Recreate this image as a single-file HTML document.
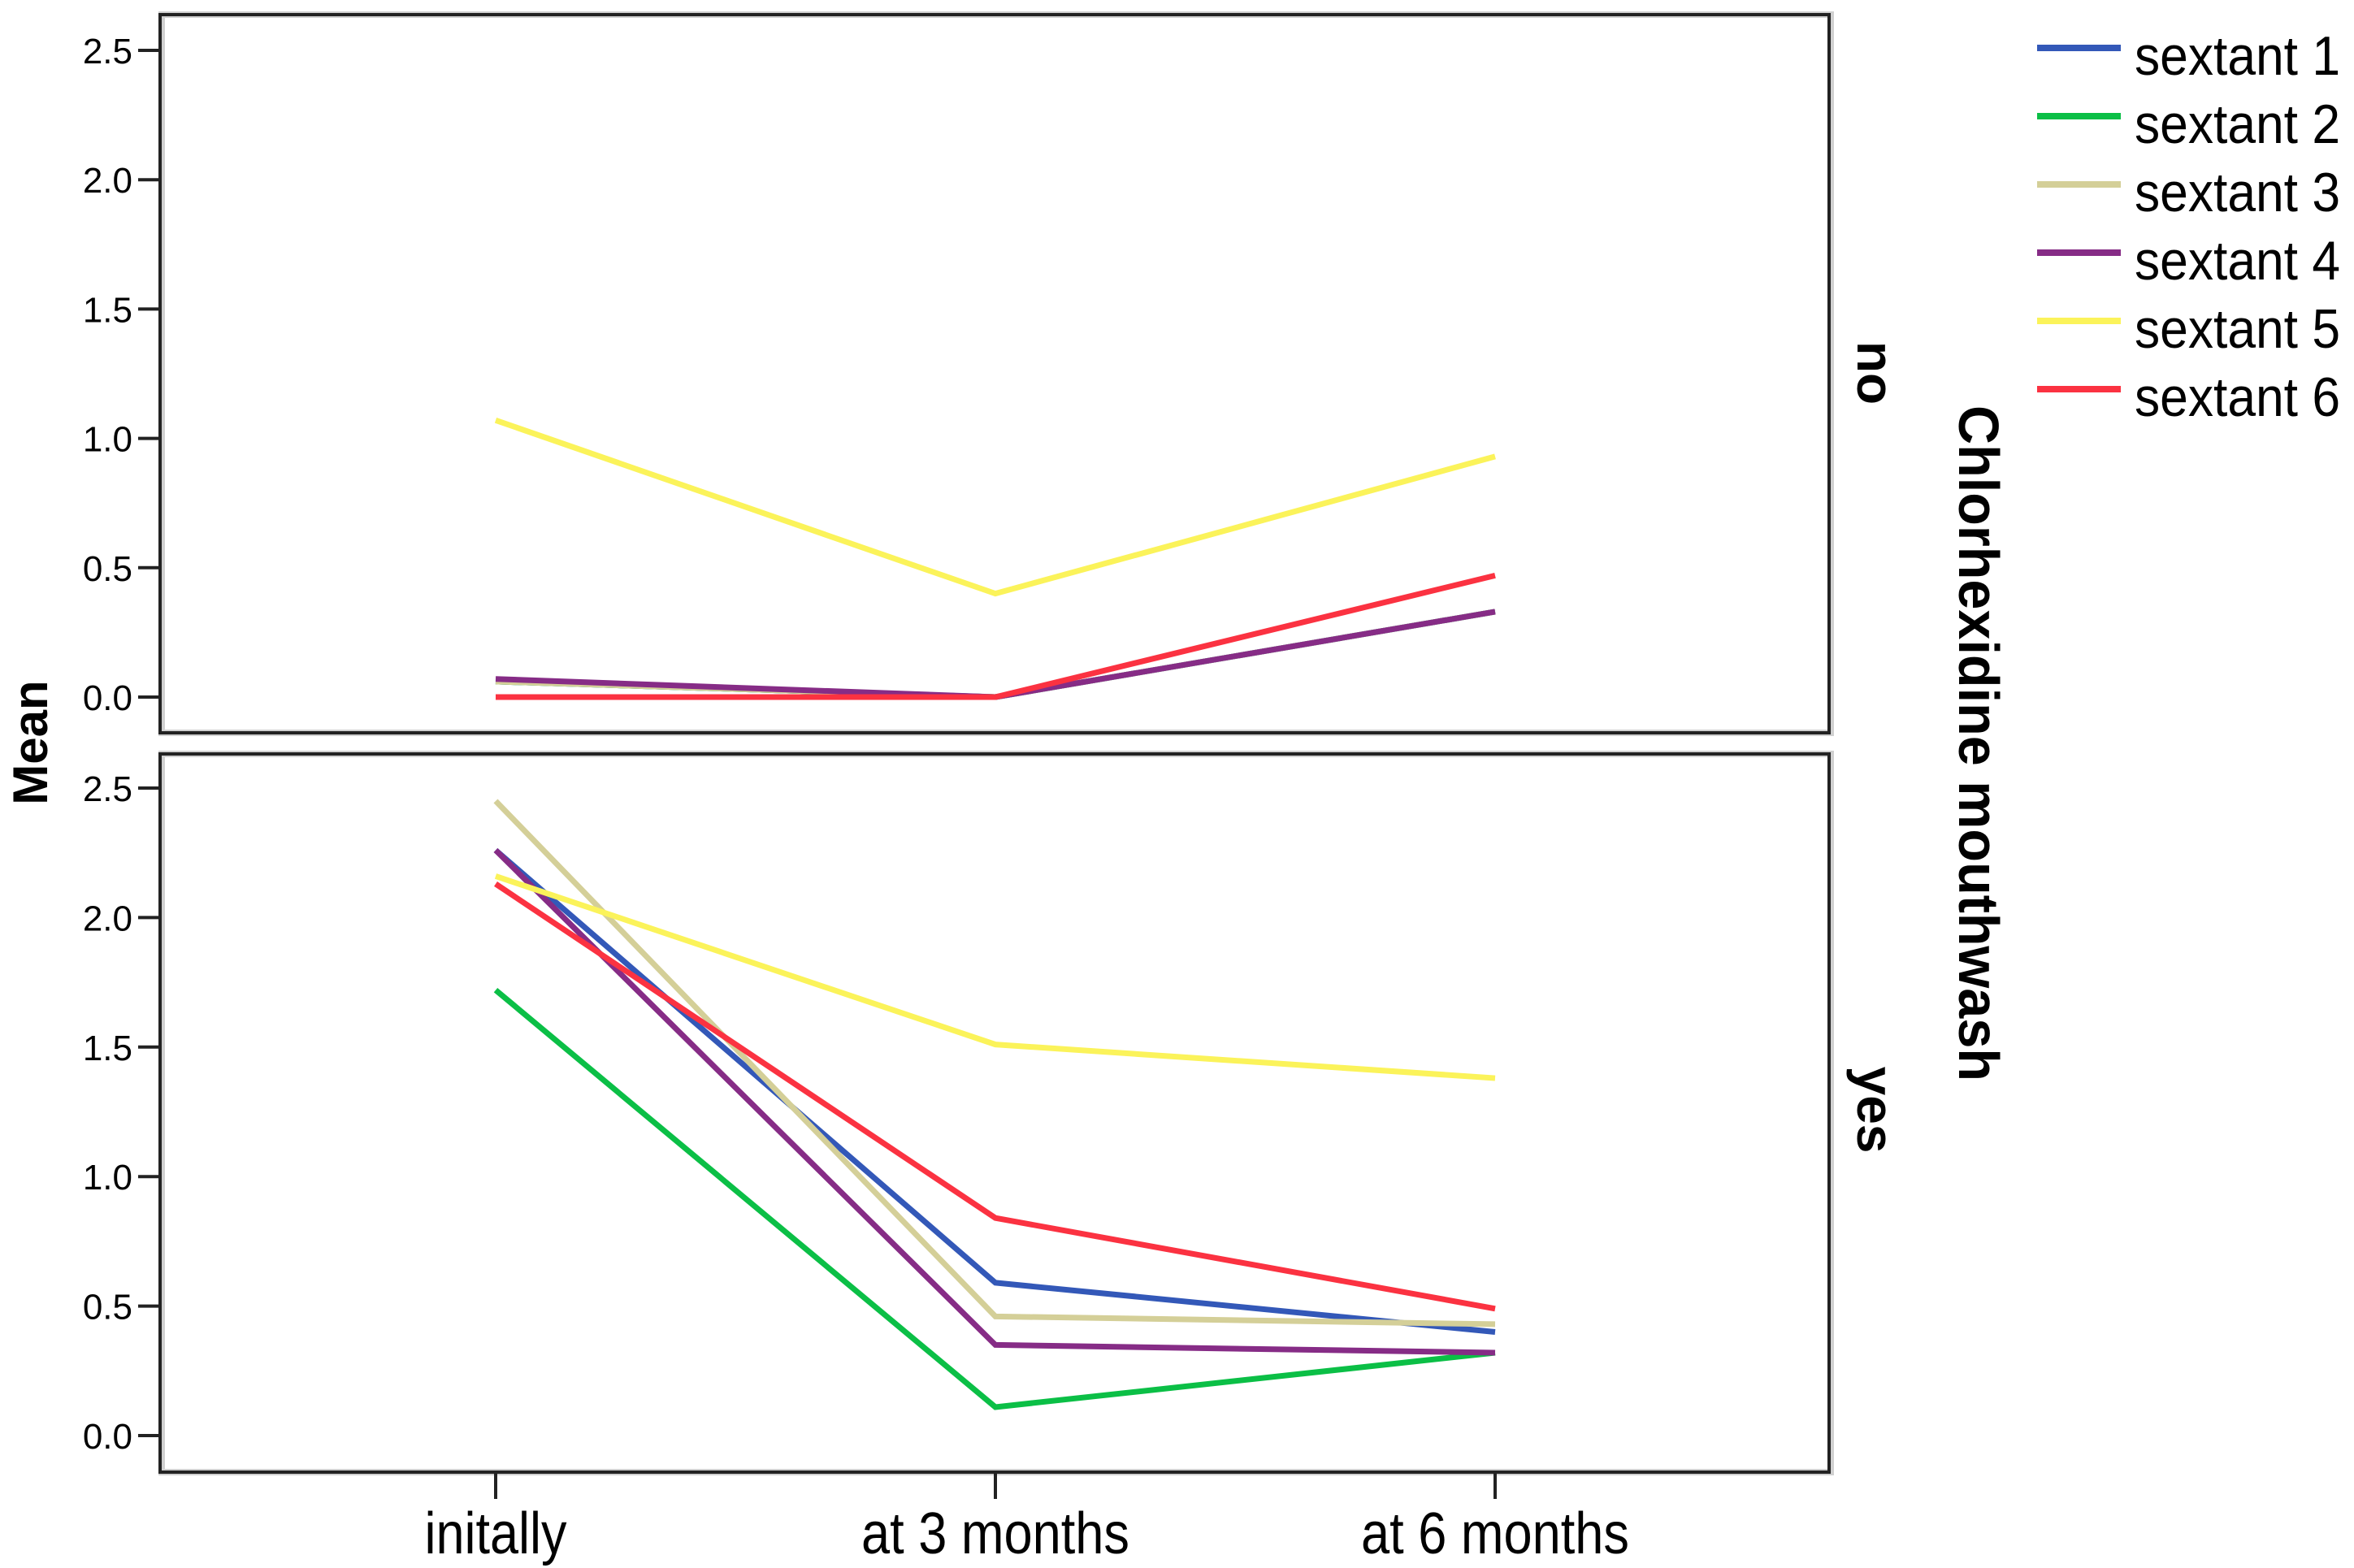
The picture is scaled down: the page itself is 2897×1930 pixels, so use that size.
<!DOCTYPE html>
<html><head><meta charset="utf-8"><style>
html,body{margin:0;padding:0;background:#fff;}
svg{display:block;}
text{font-family:"Liberation Sans",sans-serif;}
.n{font-family:"Liberation Sans Narrow","Liberation Sans",sans-serif;}
</style></head><body>
<svg id="chart" width="2897" height="1930" viewBox="0 0 2897 1930" xmlns="http://www.w3.org/2000/svg">
<g id="frames">
<rect x="199" y="18" width="2054" height="884" fill="none" stroke="#d0d0d0" stroke-width="8"/>
<rect x="197" y="18" width="2054" height="884" fill="none" stroke="#222" stroke-width="4"/>
<rect x="199" y="928" width="2054" height="884" fill="none" stroke="#d0d0d0" stroke-width="8"/>
<rect x="197" y="928" width="2054" height="884" fill="none" stroke="#222" stroke-width="4"/>
</g>
<g id="axes"></g>
<g id="series"></g>
<g id="legend"></g>
<text transform="translate(58,914) rotate(-90)" text-anchor="middle" font-weight="bold" font-size="60">Mean</text>
<text class="n" transform="translate(2411,915) rotate(90)" text-anchor="middle" font-weight="bold" font-size="70" textLength="832" lengthAdjust="spacingAndGlyphs">Chlorhexidine mouthwash</text>
<text class="n" transform="translate(2286,459) rotate(90)" text-anchor="middle" font-weight="bold" font-size="64">no</text>
<text class="n" transform="translate(2286,1366) rotate(90)" text-anchor="middle" font-weight="bold" font-size="64">yes</text>
</svg>
<script>
const categories = ["initally", "at 3 months", "at 6 months"];
const seriesNames = ["sextant 1", "sextant 2", "sextant 3", "sextant 4", "sextant 5", "sextant 6"];
const seriesColors = ["#3358b8", "#0bbf46", "#d4cf98", "#862c86", "#fbf35a", "#fb3241"];
const yTicks = [0, 0.5, 1, 1.5, 2, 2.5];
const yTickLabels = ["0.0", "0.5", "1.0", "1.5", "2.0", "2.5"];
const noS1 = [0.06, 0.00, 0.33];
const noS2 = [0.06, 0.00, 0.33];
const noS3 = [0.06, 0.00, 0.33];
const noS4 = [0.07, 0.00, 0.33];
const noS5 = [1.07, 0.40, 0.93];
const noS6 = [0.00, 0.00, 0.47];
const yesS1 = [2.26, 0.59, 0.40];
const yesS2 = [1.72, 0.11, 0.32];
const yesS3 = [2.45, 0.46, 0.43];
const yesS4 = [2.26, 0.35, 0.32];
const yesS5 = [2.16, 1.51, 1.38];
const yesS6 = [2.13, 0.84, 0.49];
const panelNo = [noS1, noS2, noS3, noS4, noS5, noS6];
const panelYes = [yesS1, yesS2, yesS3, yesS4, yesS5, yesS6];

const NS = "http://www.w3.org/2000/svg";
const xPos = i => 610 + i * 615;
const yNo = v => 858 - v * 318.4;
const yYes = v => 1767 - v * 318.8;
function mk(tag, attrs, parent) {
  const e = document.createElementNS(NS, tag);
  for (const k in attrs) e.setAttribute(k, attrs[k]);
  parent.appendChild(e);
  return e;
}
const axes = document.getElementById("axes");
[["no", yNo], ["yes", yYes]].forEach(([pn, yf]) => {
  yTicks.forEach((t, i) => {
    const tk = mk("line", {x1: 170, x2: 197, y1: yf(t), y2: yf(t), stroke: "#222", "stroke-width": 4}, axes);
    
    
    const lb = mk("text", {x: 163, y: yf(t) + 16, "text-anchor": "end", "font-size": 44}, axes);
    
    
    lb.textContent = yTickLabels[i];
  });
});
categories.forEach((c, i) => {
  const tk = mk("line", {x1: xPos(i), x2: xPos(i), y1: 1812, y2: 1845, stroke: "#222", "stroke-width": 4}, axes);
  
  
  const lb = mk("text", {x: xPos(i), y: 1912, "text-anchor": "middle", "font-size": 72, class: "n", textLength: c.length > 8 ? 330 : 175, lengthAdjust: "spacingAndGlyphs"}, axes);
  
  
  lb.textContent = c;
});
const sg = document.getElementById("series");
[[panelNo, yNo, "no"], [panelYes, yYes, "yes"]].forEach(([data, yf, pn]) => {
  data.forEach((vals, s) => {
    const pts = vals.map((v, i) => xPos(i) + "," + yf(v)).join(" ");
    const pl = mk("polyline", {points: pts, fill: "none", stroke: seriesColors[s], "stroke-width": 7, "stroke-linejoin": "miter"}, sg);
    
    
  });
});
const lg = document.getElementById("legend");
seriesNames.forEach((n, s) => {
  const y = 59 + s * 84;
  const g = mk("g", {}, lg);
  
  
  mk("line", {x1: 2507, x2: 2610, y1: y, y2: y, stroke: seriesColors[s], "stroke-width": 8}, g);
  const t = mk("text", {x: 2627, y: y + 33, "font-size": 68, class: "n", textLength: 253, lengthAdjust: "spacingAndGlyphs"}, g);
  t.textContent = n;
});
</script>
</body></html>
